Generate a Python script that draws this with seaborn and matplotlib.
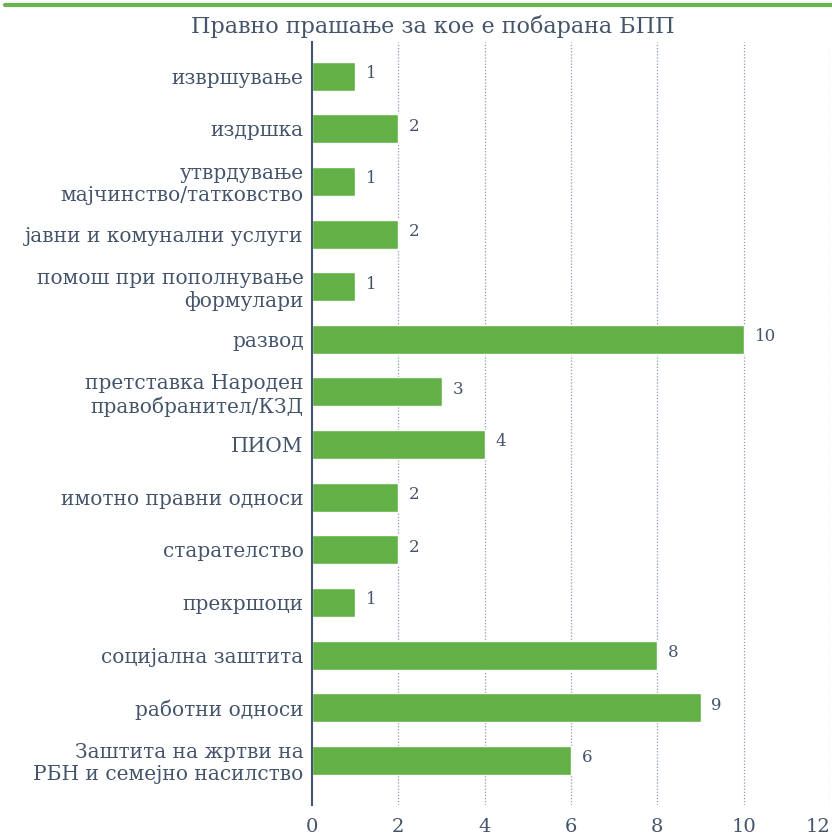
import matplotlib
matplotlib.use("Agg")
import matplotlib.pyplot as plt
import seaborn as sns
import pandas as pd

# Data
categories = [
    "извршување",
    "издршка",
    "утврдување\nмајчинство/татковство",
    "јавни и комунални услуги",
    "помош при пополнување\nформулари",
    "развод",
    "претставка Народен\nправобранител/КЗД",
    "ПИОМ",
    "имотно правни односи",
    "старателство",
    "прекршоци",
    "социјална заштита",
    "работни односи",
    "Заштита на жртви на\nРБН и семејно насилство",
]
counts = [1, 2, 1, 2, 1, 10, 3, 4, 2, 2, 1, 8, 9, 6]
x_ticks = [0, 2, 4, 6, 8, 10, 12]

df = pd.DataFrame({"category": categories, "count": counts})

text_color = "#44546a"
green = "#63b146"

sns.set_style("white")
plt.rcParams["font.family"] = ["DejaVu Serif"]

fig = plt.figure(figsize=(8.32, 8.39), dpi=100)
ax = fig.add_axes([312 / 832, 34 / 839, (830 - 312) / 832, (805 - 42) / 839])

sns.barplot(data=df, x="count", y="category", color=green, width=0.55,
            saturation=1, ax=ax)

for i, v in enumerate(counts):
    ax.text(v + 0.25, i - 0.05, str(v), va="center", ha="left",
            fontsize=12, color=text_color)

ax.set_xlim(0, 12)
ax.set_ylim(13.85, -0.65)
ax.set_xticks(x_ticks)
ax.set_xticklabels([str(t) for t in x_ticks], fontsize=14, color=text_color)
ax.get_xticklabels()[-1].set_horizontalalignment("right")
ax.tick_params(axis="x", length=0, pad=9)
ax.tick_params(axis="y", length=0, pad=6)
for lbl in ax.get_yticklabels():
    lbl.set_fontsize(14.5)
    lbl.set_color(text_color)
ax.set_xlabel("")
ax.set_ylabel("")

for t in x_ticks[1:]:
    ax.axvline(t, color="#8e9ab0", linestyle=(0, (1, 1.5)), linewidth=0.9, zorder=0)

for s in ["top", "right", "bottom"]:
    ax.spines[s].set_visible(False)
ax.spines["left"].set_color(text_color)
ax.spines["left"].set_linewidth(1.5)

# title and green rule
fig.text(0.52, 1 - 26 / 839, "Правно прашање за кое е побарана БПП",
         ha="center", va="center", fontsize=16, color=text_color)
fig.add_artist(plt.Line2D([5 / 832, 1], [1 - 5 / 839, 1 - 5 / 839],
                          color="#6ab44c", linewidth=3))

plt.savefig("out.png", dpi=100)
plt.close()
